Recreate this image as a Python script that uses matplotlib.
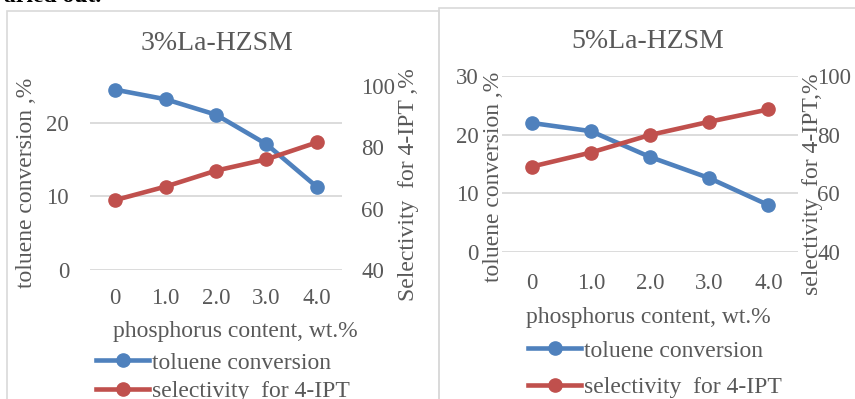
import matplotlib
matplotlib.use("Agg")
import matplotlib.pyplot as plt
from matplotlib.patches import Rectangle

matplotlib.rcParams['font.family'] = ['Liberation Serif', 'DejaVu Serif']

W, H = 855, 399

# phosphorus loading (category axis)
p_content = ["0", "1.0", "2.0", "3.0", "4.0"]

# 3% La-HZSM
conv_3 = [24.5, 23.2, 21.1, 17.1, 11.3]
sel_3 = [62.8, 67.2, 72.4, 76.1, 81.6]

# 5% La-HZSM
conv_5 = [22.0, 20.6, 16.2, 12.6, 8.0]
sel_5 = [69.1, 73.9, 79.9, 84.4, 88.6]

blue = "#4F81BD"
red = "#C0504D"
txt = "#595959"
grid = "#d9d9d9"


def px(x, y):
    return x / W, 1 - y / H


def axes_px(fig, x0, y0, x1, y1):
    return fig.add_axes([x0 / W, 1 - y1 / H, (x1 - x0) / W, (y1 - y0) / H])


def panel(fig, box, conv, sel, ylim_l, yticks_l, xpad, ypad):
    ax = axes_px(fig, *box)
    ax2 = ax.twinx()
    x = range(len(p_content))
    l1, = ax.plot(x, conv, color=blue, lw=3.3, marker='o', ms=9.5,
                  label="toluene conversion", clip_on=False, zorder=3)
    l2, = ax2.plot(x, sel, color=red, lw=3.3, marker='o', ms=9.5,
                   label="selectivity  for 4-IPT", clip_on=False, zorder=3)
    ax.set_xlim(-0.5, len(p_content) - 0.5)
    ax.set_ylim(*ylim_l)
    ax.set_yticks(yticks_l)
    ax2.set_ylim(40, 100)
    ax2.set_yticks([40, 60, 80, 100])
    ax.set_xticks(list(x))
    ax.set_xticklabels(p_content)
    ax.yaxis.grid(True, color=grid, lw=1.3)
    ax.set_axisbelow(True)
    for a in (ax, ax2):
        for s in a.spines.values():
            s.set_visible(False)
        a.tick_params(length=0, labelsize=16.5, colors=txt)
    ax.tick_params(axis='y', pad=ypad[0])
    ax2.tick_params(axis='y', pad=ypad[1])
    ax.tick_params(axis='x', pad=xpad)
    return ax, ax2, l1, l2


fig = plt.figure(figsize=(W / 100, H / 100), dpi=100)

# chart frames
fig.patches.append(Rectangle(px(7, 400), 432 / W, 389 / H, transform=fig.transFigure,
                             fill=False, ec=grid, lw=1.2))
fig.patches.append(Rectangle(px(439, 400), 420 / W, 392 / H, transform=fig.transFigure,
                             fill=False, ec=grid, lw=1.2))

# left chart
axL, axL2, b1, r1 = panel(fig, (90, 86, 342, 270), conv_3, sel_3, (0, 25), [0, 10, 20],
                          xpad=13, ypad=(15, 14))
fig.text(*px(217, 44), "3%La-HZSM", ha='center', va='center', fontsize=20, color=txt)
fig.text(*px(26, 183), "toluene conversion ,%", rotation=90, ha='center', va='center',
         fontsize=17, color=txt)
fig.text(*px(408, 185), "Selectivity  for 4-IPT ,%", rotation=90, ha='center', va='center',
         fontsize=17, color=txt)
fig.text(*px(235, 332), "phosphorus content, wt.%", ha='center', va='center',
         fontsize=17, color=txt)
fig.legend(handles=[b1, r1], loc='upper left', bbox_to_anchor=px(96, 352), frameon=False,
           fontsize=17, labelcolor=txt, handlelength=2.25, handletextpad=0.12,
           labelspacing=0.3, borderpad=0, borderaxespad=0)

# right chart
axR, axR2, b2, r2 = panel(fig, (502, 76, 798, 252), conv_5, sel_5, (0, 30), [0, 10, 20, 30],
                          xpad=15, ypad=(17, 14))
fig.text(*px(648, 41), "5%La-HZSM", ha='center', va='center', fontsize=20, color=txt)
fig.text(*px(493, 177), "toluene conversion ,%", rotation=90, ha='center', va='center',
         fontsize=17, color=txt)
fig.text(*px(812, 184), "selectivity  for 4-IPT,%", rotation=90, ha='center', va='center',
         fontsize=17, color=txt)
fig.text(*px(648, 317), "phosphorus content, wt.%", ha='center', va='center',
         fontsize=17, color=txt)
fig.legend(handles=[b2, r2], loc='upper left', bbox_to_anchor=px(528, 340), frameon=False,
           fontsize=17, labelcolor=txt, handlelength=2.25, handletextpad=0.12,
           labelspacing=0.65, borderpad=0, borderaxespad=0)

# tail of the sentence above the charts
fig.text(*px(4, 2.5), "aried out.", ha='left', va='baseline', fontsize=17,
         fontweight='bold', color='black')

fig.savefig("out.png", dpi=100)
